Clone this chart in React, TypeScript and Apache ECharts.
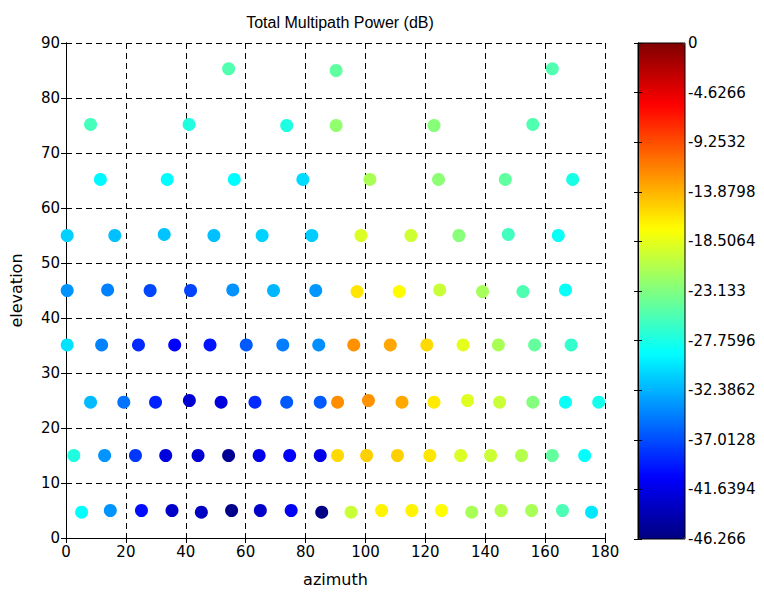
import React, { useEffect, useRef } from "react";
import * as echarts from "echarts";

const azimuth = [
  54.3, 90.2, 162.4,
  8.2, 41.1, 73.7, 90.2, 122.9, 155.9,
  11.5, 33.8, 56.2, 79.1, 101.5, 124.4, 146.7, 169.2,
  0.4, 16.3, 32.8, 49.4, 65.5, 82.1, 98.5, 115.2, 131.2, 147.7, 164.4,
  0.4, 13.9, 28.1, 41.6, 55.7, 69.3, 83.4, 97.2, 111.3, 124.8, 139.1, 152.6, 166.8,
  0.4, 11.9, 24.2, 36.3, 48.1, 60.2, 72.4, 84.4, 96.1, 108.3, 120.5, 132.6, 144.4, 156.5, 168.7,
  8.2, 19.3, 29.9, 41.2, 51.8, 63.1, 73.7, 84.9, 90.7, 101.0, 112.2, 122.9, 134.1, 144.8, 155.9, 166.8, 177.9,
  2.6, 12.9, 23.2, 33.3, 44.1, 54.3, 64.5, 74.7, 84.9, 90.7, 100.4, 110.7, 121.5, 131.8, 141.8, 152.1, 162.4, 173.2,
  5.2, 14.8, 25.2, 35.4, 45.2, 55.3, 64.9, 75.2, 85.4, 95.2, 105.4, 115.5, 125.4, 135.5, 145.3, 155.5, 165.8, 175.5,
];

const elevation = [
  85.3, 85.0, 85.3,
  75.2, 75.2, 75.0, 75.0, 75.0, 75.2,
  65.2, 65.2, 65.2, 65.2, 65.2, 65.2, 65.2, 65.2,
  55.0, 55.0, 55.2, 55.0, 55.0, 55.0, 55.0, 55.0, 55.0, 55.2, 55.0,
  45.0, 45.1, 45.0, 45.0, 45.1, 45.0, 45.0, 44.8, 44.8, 45.1, 44.8, 44.8, 45.1,
  35.1, 35.1, 35.1, 35.1, 35.1, 35.1, 35.1, 35.1, 35.1, 35.1, 35.1, 35.1, 35.1, 35.1, 35.1,
  24.7, 24.7, 24.7, 25.0, 24.7, 24.7, 24.7, 24.7, 24.7, 25.0, 24.7, 24.7, 25.0, 24.7, 24.7, 24.7, 24.7,
  15.0, 15.0, 15.0, 15.0, 15.0, 15.0, 15.0, 15.0, 15.0, 15.0, 15.0, 15.0, 15.0, 15.0, 15.0, 15.0, 15.0, 15.0,
  4.7, 5.0, 5.0, 5.0, 4.7, 5.0, 5.0, 5.0, 4.7, 4.7, 5.0, 5.0, 5.0, 4.7, 5.0, 5.0, 5.0, 4.7,
];

const power = [
  -25.3, -24.6, -25.3,
  -25.8, -27.5, -27.6, -22.3, -22.8, -25.3,
  -29.2, -29.0, -29.0, -30.5, -21.2, -22.6, -24.6, -27.8,
  -31.0, -31.8, -31.6, -31.8, -30.9, -31.2, -19.0, -19.6, -22.8, -26.0, -28.6,
  -33.8, -34.6, -37.3, -37.4, -33.9, -32.2, -33.6, -16.2, -17.2, -19.8, -21.4, -25.4, -28.6,
  -30.2, -34.6, -38.6, -40.6, -39.6, -36.4, -34.8, -34.0, -12.3, -13.3, -15.6, -18.6, -21.2, -24.4, -26.6,
  -32.0, -35.3, -39.0, -42.6, -42.0, -38.6, -36.5, -36.4, -12.2, -12.4, -13.4, -16.4, -18.8, -19.8, -23.0, -28.6, -28.0,
  -27.5, -33.8, -38.0, -42.0, -42.5, -45.3, -41.5, -40.5, -41.5, -15.6, -15.2, -15.2, -16.2, -19.0, -19.7, -20.8, -24.5, -28.9,
  -28.9, -33.8, -40.0, -43.0, -43.2, -45.8, -43.0, -41.0, -46.0, -19.8, -16.8, -16.8, -17.3, -21.3, -20.8, -21.3, -25.5, -30.0,
];

const colorMin = -46.266;
const colorMax = 0;
const colorStep = 4.6266;
const jetColors = [
  "#000080", "#0000FF", "#0080FF", "#00FFFF", "#80FF80",
  "#FFFF00", "#FF8000", "#FF0000", "#800000",
];

const FONT = "DejaVu Sans, Liberation Sans, sans-serif";
const TITLE_FONT = "Liberation Sans, Arial, sans-serif";

export default function App() {
  const ref = useRef<HTMLDivElement>(null);
  useEffect(() => {
    if (!ref.current) return;
    const chart = echarts.init(ref.current, null, { renderer: "svg" });
    const data = azimuth.map((a, i) => [a, elevation[i], power[i]]);
    const txt = { color: "#000", fontFamily: FONT, fontSize: 15 };
    const gridLine = { show: true, lineStyle: { color: "#000", type: [6, 4] as any, width: 1 } };
    const axisLine = { show: true, lineStyle: { color: "#000", width: 1 } };
    const tick = { show: true, inside: true, length: 5, lineStyle: { color: "#000" } };
    chart.setOption({
      animation: false,
      backgroundColor: "#fff",
      title: {
        text: "Total Multipath Power (dB)",
        left: 335,
        top: 9,
        textAlign: "center",
        textStyle: { color: "#000", fontFamily: TITLE_FONT, fontWeight: "normal", fontSize: 16 },
      },
      grid: [
        { left: 64, right: 159, top: 43, bottom: 53, show: false },
        { left: 638, top: 43, width: 47, height: 496, show: true, borderColor: "#000", borderWidth: 1, backgroundColor: "transparent", z: 10 },
      ],
      xAxis: [
        {
          type: "value", gridIndex: 0, min: 0, max: 180, interval: 20,
          axisLine, axisTick: tick, splitLine: gridLine,
          axisLabel: { ...txt, margin: 6 },
          name: "azimuth", nameLocation: "middle", nameGap: 33,
          nameTextStyle: { ...txt, fontSize: 16 },
        },
        {
          type: "value", gridIndex: 0, min: 0, max: 180, interval: 20, position: "top",
          axisLine, axisTick: tick, splitLine: { show: false }, axisLabel: { show: false },
        },
        {
          type: "value", gridIndex: 1, min: 0, max: 1, show: false,
        },
      ],
      yAxis: [
        {
          type: "value", gridIndex: 0, min: 0, max: 90, interval: 10,
          axisLine, axisTick: tick, splitLine: gridLine,
          axisLabel: { ...txt, margin: 6 },
          name: "elevation", nameLocation: "middle", nameGap: 42, nameRotate: 90,
          nameTextStyle: { ...txt, fontSize: 16 },
        },
        {
          type: "value", gridIndex: 0, min: 0, max: 90, interval: 10, position: "right",
          axisLine, axisTick: tick, splitLine: { show: false }, axisLabel: { show: false },
        },
        {
          type: "value", gridIndex: 1, min: colorMin, max: colorMax, interval: colorStep, position: "right",
          z: 10,
          axisLine, axisTick: { show: true, inside: true, length: 4, lineStyle: { color: "#000" } },
          splitLine: { show: false },
          axisLabel: {
            ...txt, margin: 3,
            formatter: (v: number) => String(parseFloat(v.toFixed(4))),
          },
        },
        {
          type: "value", gridIndex: 1, min: colorMin, max: colorMax, interval: colorStep, position: "left",
          z: 10,
          axisLine, axisTick: { show: true, inside: true, length: 4, lineStyle: { color: "#000" } },
          splitLine: { show: false }, axisLabel: { show: false },
        },
      ],
      visualMap: {
        type: "continuous",
        min: colorMin,
        max: colorMax,
        dimension: 2,
        seriesIndex: 0,
        calculable: false,
        hoverLink: false,
        left: 638,
        top: 43,
        itemWidth: 47,
        itemHeight: 496,
        padding: 0,
        text: null,
        showLabel: false,
        inRange: { color: jetColors },
      },
      series: [
        {
          type: "scatter",
          xAxisIndex: 0,
          yAxisIndex: 0,
          symbolSize: 13,
          data,
          itemStyle: { opacity: 1 },
        },
      ],
    });
    return () => chart.dispose();
  }, []);
  return (
    <div
      ref={ref}
      style={{ position: "absolute", left: 0, top: 0, width: 764, height: 592 }}
    />
  );
}
